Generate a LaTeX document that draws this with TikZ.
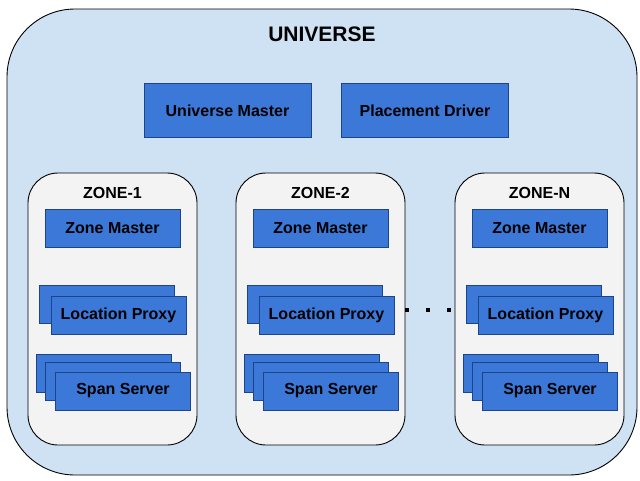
\documentclass[tikz,border=0pt]{standalone}
\usepackage{fontspec}
\setmainfont{Liberation Sans}
\definecolor{univfill}{HTML}{CFE2F3}
\definecolor{zonefill}{HTML}{F3F3F3}
\definecolor{boxblue}{HTML}{3C78D8}
\definecolor{boxline}{HTML}{1C4587}
\begin{document}
\begin{tikzpicture}[x=1pt,y=-1pt,line width=.9pt,font=\fontsize{16}{18}\selectfont\bfseries,
  univ/.style={draw=black,fill=univfill,rounded corners=68pt,minimum width=630pt,minimum height=466pt},
  zone/.style={draw=black,fill=zonefill,rounded corners=30pt,minimum width=169pt,minimum height=272pt},
  topbox/.style={draw=boxline,fill=boxblue,minimum width=167pt,minimum height=54pt,inner sep=0pt},
  box/.style={draw=boxline,fill=boxblue,minimum width=135pt,minimum height=38pt,inner sep=0pt},
  dot/.style={fill=black,minimum size=4.5pt,inner sep=0pt}]
\useasboundingbox[fill=white] (0,0) rectangle (640,480);
\node[univ] (U) at (322,242) {};
\node[font=\fontsize{21}{24}\selectfont\bfseries] (Ut) at (322,34) {UNIVERSE};
\node[topbox] (UM) at (227.5,110.5) {Universe Master};
\node[topbox] (PD) at (425,110.5) {Placement Driver};
\node[zone] (Z1) at (112.5,309) {};
\node[zone] (Z2) at (320.5,309) {};
\node[zone] (ZN) at (539.5,309) {};
\node (Z1t) at (112.5,193) {ZONE-1};
\node (Z2t) at (320.5,193) {ZONE-2};
\node (ZNt) at (539.5,193) {ZONE-N};
% zone 1
\node[box] (ZM1) at (112.5,228.5) {Zone Master};
\node[box] (LP1b) at (106.5,304) {};
\node[box] (LP1) at (118.5,315) {Location Proxy};
\node[box] (SS1c) at (104,373) {};
\node[box] (SS1b) at (113,381.5) {};
\node[box] (SS1) at (123,391) {Span Server};
% zone 2
\node[box] (ZM2) at (320.5,228.5) {Zone Master};
\node[box] (LP2b) at (314.5,304) {};
\node[box] (LP2) at (326.5,315) {Location Proxy};
\node[box] (SS2c) at (312,373) {};
\node[box] (SS2b) at (321,381.5) {};
\node[box] (SS2) at (331,391) {Span Server};
% zone N
\node[box] (ZMN) at (539.5,228.5) {Zone Master};
\node[box] (LPNb) at (533.5,304) {};
\node[box] (LPN) at (545.5,315) {Location Proxy};
\node[box] (SSNc) at (531,373) {};
\node[box] (SSNb) at (540,381.5) {};
\node[box] (SSN) at (550,391) {Span Server};
\node[dot] (d1) at (407,310) {};
\node[dot] (d2) at (428,310) {};
\node[dot] (d3) at (449,310) {};
\end{tikzpicture}
\end{document}
